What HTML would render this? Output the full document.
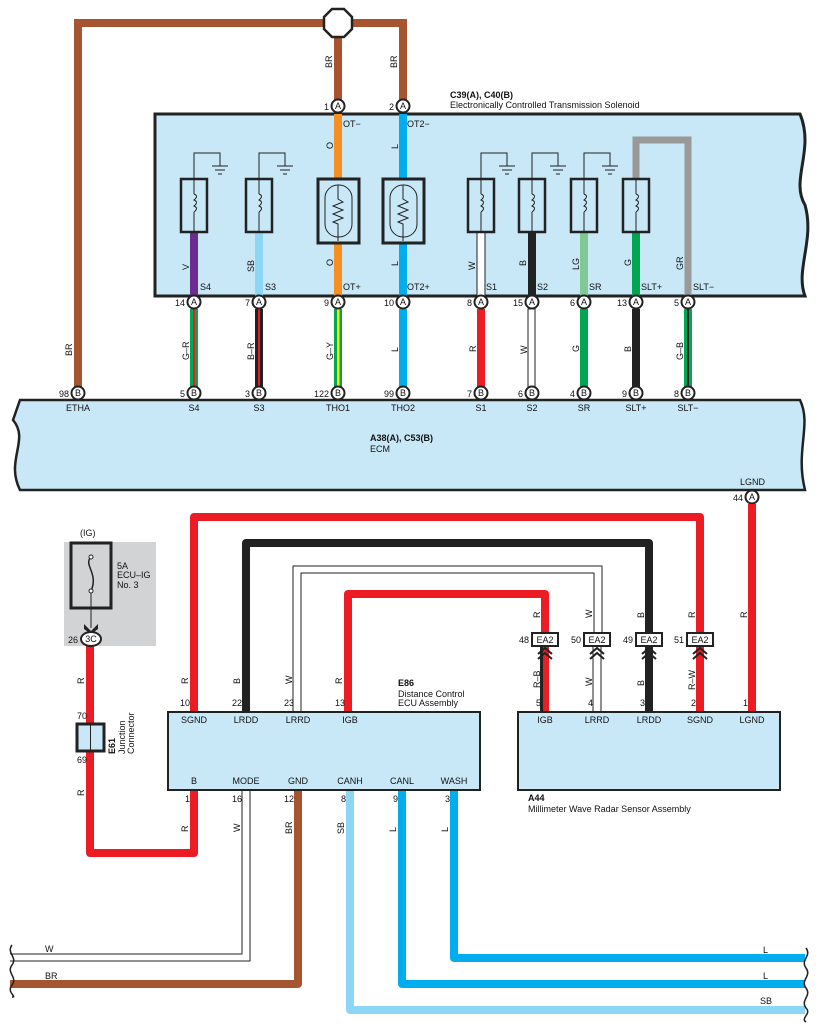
<!DOCTYPE html>
<html><head><meta charset="utf-8"><style>
html,body{margin:0;padding:0;background:#fff}
svg{display:block}
text{font-family:"Liberation Sans",sans-serif;font-size:9px;fill:#111}
.b{font-weight:bold}
</style></head><body>
<svg width="818" height="1032" viewBox="0 0 818 1032" xmlns="http://www.w3.org/2000/svg">
<defs>
<g id="coil"><rect x="-13" y="0" width="26" height="53" fill="none" stroke="#222" stroke-width="2.5"/><line x1="0" y1="0" x2="0" y2="15" stroke="#222"/><path d="M0 15 q5 2 0 6 q5 2 0 6 q5 2 0 6" fill="none" stroke="#222"/><line x1="0" y1="33" x2="0" y2="53" stroke="#222"/></g>
<g id="therm"><rect x="-20" y="0" width="41" height="64" fill="none" stroke="#222" stroke-width="3"/><rect x="-13" y="6" width="27" height="52" rx="13" fill="none" stroke="#222"/><path d="M0 6 v14 l5 3 -10 4 10 4 -10 4 10 4 -10 4 5 2 v17" fill="none" stroke="#222"/></g>
<g id="gnd"><line x1="-8" y1="0" x2="8" y2="0" stroke="#222"/><line x1="-5" y1="4" x2="5" y2="4" stroke="#222"/><line x1="-2" y1="8" x2="2" y2="8" stroke="#222"/></g>
</defs>

<!-- top brown loop -->
<path d="M78 393 V23 H403 V106" fill="none" stroke="#a65530" stroke-width="8"/>
<line x1="338" y1="23" x2="338" y2="106" stroke="#a65530" stroke-width="8"/>
<polygon points="332,9 344,9 352,17 352,29 344,37 332,37 324,29 324,17" fill="#fff" stroke="#222" stroke-width="2.5"/>
<text transform="translate(332,68) rotate(-90)">BR</text>
<text transform="translate(397,68) rotate(-90)">BR</text>
<text transform="translate(72,356) rotate(-90)">BR</text>

<!-- solenoid box -->
<path d="M155 114 H800 C815 150 790 180 805 205 C815 240 795 270 805 296 H155 Z" fill="#c8e8f8" stroke="#222" stroke-width="3"/>
<text x="450" y="98" class="b">C39(A), C40(B)</text>
<text x="450" y="108">Electronically Controlled Transmission Solenoid</text>

<!-- ground wires -->
<g stroke="#222" fill="none">
<path d="M194 179 V153 H220 V166"/><path d="M259 179 V153 H285 V166"/>
<path d="M481 179 V153 H507 V166"/><path d="M532 179 V153 H558 V166"/><path d="M584 179 V153 H610 V166"/>
</g>
<use href="#gnd" x="220" y="166"/><use href="#gnd" x="285" y="166"/><use href="#gnd" x="507" y="166"/><use href="#gnd" x="558" y="166"/><use href="#gnd" x="610" y="166"/>
<!-- GR -->
<path d="M636 179 V140 H688 V296" fill="none" stroke="#999" stroke-width="7"/>

<!-- wires inside solenoid -->
<line x1="194" y1="232" x2="194" y2="296" stroke="#6b2d8f" stroke-width="8"/>
<line x1="259" y1="232" x2="259" y2="296" stroke="#8ed6f6" stroke-width="8"/>
<line x1="338" y1="114" x2="338" y2="296" stroke="#f59020" stroke-width="8"/>
<line x1="403" y1="114" x2="403" y2="296" stroke="#00aeef" stroke-width="8"/>
<rect x="477" y="232" width="8" height="64" fill="#fff" stroke="#222"/>
<line x1="532" y1="232" x2="532" y2="296" stroke="#222" stroke-width="8"/>
<line x1="584" y1="232" x2="584" y2="296" stroke="#80c995" stroke-width="8"/>
<line x1="636" y1="232" x2="636" y2="296" stroke="#00a651" stroke-width="8"/>
<rect x="317" y="180" width="42" height="62" fill="#c8e8f8"/><rect x="382" y="180" width="42" height="62" fill="#c8e8f8"/>
<use href="#coil" x="194" y="179"/><use href="#coil" x="259" y="179"/>
<use href="#therm" x="338" y="179"/><use href="#therm" x="403" y="179"/>
<use href="#coil" x="481" y="179"/><use href="#coil" x="532" y="179"/><use href="#coil" x="584" y="179"/><use href="#coil" x="636" y="179"/>
<g>
<text transform="translate(189,270) rotate(-90)">V</text><text transform="translate(254,272) rotate(-90)">SB</text>
<text transform="translate(333,149) rotate(-90)">O</text><text transform="translate(333,266) rotate(-90)">O</text>
<text transform="translate(398,149) rotate(-90)">L</text><text transform="translate(398,266) rotate(-90)">L</text>
<text transform="translate(475,270) rotate(-90)">W</text><text transform="translate(526,266) rotate(-90)">B</text>
<text transform="translate(579,270) rotate(-90)">LG</text><text transform="translate(631,266) rotate(-90)">G</text>
<text transform="translate(683,270) rotate(-90)">GR</text>
</g>
<text x="200" y="290">S4</text><text x="265" y="290">S3</text><text x="343" y="290">OT+</text><text x="407" y="290">OT2+</text>
<text x="343" y="127">OT−</text><text x="407" y="127">OT2−</text>
<text x="486" y="290">S1</text><text x="537" y="290">S2</text><text x="589" y="290">SR</text><text x="641" y="290">SLT+</text><text x="693" y="290">SLT−</text>

<!-- wires between -->
<g>
<rect x="190" y="309" width="8" height="78" fill="#00a651"/><rect x="193" y="309" width="2" height="78" fill="#ed1c24"/>
<rect x="255" y="309" width="8" height="78" fill="#222"/><rect x="258" y="309" width="2" height="78" fill="#ed1c24"/>
<rect x="334" y="309" width="8" height="78" fill="#00a651"/><rect x="337" y="309" width="2.5" height="78" fill="#ffe600"/>
<rect x="399" y="309" width="8" height="78" fill="#00aeef"/>
<rect x="477" y="309" width="8" height="78" fill="#ed1c24"/>
<rect x="528" y="309" width="7" height="78" fill="#fff" stroke="#222"/>
<rect x="580" y="309" width="8" height="78" fill="#00a651"/>
<rect x="632" y="309" width="8" height="78" fill="#222"/>
<rect x="684" y="309" width="8" height="78" fill="#00a651"/><rect x="687" y="309" width="2" height="78" fill="#222"/>
</g>
<g>
<text transform="translate(189,360) rotate(-90)">G–R</text><text transform="translate(254,360) rotate(-90)">B–R</text>
<text transform="translate(333,360) rotate(-90)">G–Y</text><text transform="translate(398,352) rotate(-90)">L</text>
<text transform="translate(476,352) rotate(-90)">R</text><text transform="translate(527,354) rotate(-90)">W</text>
<text transform="translate(579,352) rotate(-90)">G</text><text transform="translate(631,352) rotate(-90)">B</text>
<text transform="translate(683,360) rotate(-90)">G–B</text>
</g>

<!-- ECM box -->
<path d="M20 400 H800 C812 425 795 450 805 490 H20 C5 460 30 440 13 420 Z" fill="#c8e8f8" stroke="#222" stroke-width="2.5"/>
<text x="370" y="441" class="b">A38(A), C53(B)</text><text x="370" y="452">ECM</text>
<g text-anchor="middle">
<text x="78" y="411">ETHA</text><text x="194" y="411">S4</text><text x="259" y="411">S3</text><text x="338" y="411">THO1</text><text x="403" y="411">THO2</text>
<text x="481" y="411">S1</text><text x="532" y="411">S2</text><text x="584" y="411">SR</text><text x="636" y="411">SLT+</text><text x="688" y="411">SLT−</text>
</g>

<!-- connectors -->
<g font-size="9">
<g fill="#fff" stroke="#222" stroke-width="2">
<circle cx="338" cy="106" r="6.5"/><circle cx="403" cy="106" r="6.5"/>
<circle cx="194" cy="302" r="6.5"/><circle cx="259" cy="302" r="6.5"/><circle cx="338" cy="302" r="6.5"/><circle cx="403" cy="302" r="6.5"/><circle cx="481" cy="302" r="6.5"/><circle cx="532" cy="302" r="6.5"/><circle cx="584" cy="302" r="6.5"/><circle cx="636" cy="302" r="6.5"/><circle cx="688" cy="302" r="6.5"/>
<circle cx="78" cy="393" r="6.5"/><circle cx="194" cy="393" r="6.5"/><circle cx="259" cy="393" r="6.5"/><circle cx="338" cy="393" r="6.5"/><circle cx="403" cy="393" r="6.5"/><circle cx="481" cy="393" r="6.5"/><circle cx="532" cy="393" r="6.5"/><circle cx="584" cy="393" r="6.5"/><circle cx="636" cy="393" r="6.5"/><circle cx="688" cy="393" r="6.5"/>
<circle cx="752" cy="497" r="6.5"/>
</g>
<g text-anchor="middle" font-size="8">
<text x="338" y="109">A</text><text x="403" y="109">A</text>
<text x="194" y="305">A</text><text x="259" y="305">A</text><text x="338" y="305">A</text><text x="403" y="305">A</text><text x="481" y="305">A</text><text x="532" y="305">A</text><text x="584" y="305">A</text><text x="636" y="305">A</text><text x="688" y="305">A</text>
<text x="78" y="396">B</text><text x="194" y="396">B</text><text x="259" y="396">B</text><text x="338" y="396">B</text><text x="403" y="396">B</text><text x="481" y="396">B</text><text x="532" y="396">B</text><text x="584" y="396">B</text><text x="636" y="396">B</text><text x="688" y="396">B</text>
<text x="752" y="500">A</text>
</g>
<g text-anchor="end">
<text x="329" y="110">1</text><text x="394" y="110">2</text>
<text x="185" y="306">14</text><text x="250" y="306">7</text><text x="329" y="306">9</text><text x="394" y="306">10</text><text x="472" y="306">8</text><text x="523" y="306">15</text><text x="575" y="306">6</text><text x="627" y="306">13</text><text x="679" y="306">5</text>
<text x="69" y="397">98</text><text x="185" y="397">5</text><text x="250" y="397">3</text><text x="329" y="397">122</text><text x="394" y="397">99</text><text x="472" y="397">7</text><text x="523" y="397">6</text><text x="575" y="397">4</text><text x="627" y="397">9</text><text x="679" y="397">8</text>
<text x="743" y="501">44</text>
</g>
</g>
<text x="740" y="485">LGND</text>

<!-- lower wires -->
<g fill="none" stroke-linejoin="round">
<path d="M752 504 V712" stroke="#ed1c24" stroke-width="8"/>
<path d="M194 712 V517 H700 V632" stroke="#ed1c24" stroke-width="8"/>
<path d="M246 712 V543 H649 V632" stroke="#222" stroke-width="8"/>
<path d="M293 712 V566 H602 V632" stroke="#222" stroke-width="1"/>
<path d="M301 712 V573 H594 V632" stroke="#222" stroke-width="1"/>
<path d="M348 712 V594 H545 V632" stroke="#ed1c24" stroke-width="8"/>
<path d="M90 646 V853 H194 V790" stroke="#ed1c24" stroke-width="8"/>
<path d="M242 790 V954 H10" stroke="#222" stroke-width="1"/>
<path d="M250 790 V961 H10" stroke="#222" stroke-width="1"/>
<path d="M298 790 V984 H10" stroke="#a65530" stroke-width="8"/>
<path d="M350 790 V1010 H805" stroke="#8ed6f6" stroke-width="8"/>
<path d="M402 790 V984 H805" stroke="#00aeef" stroke-width="8"/>
<path d="M454 790 V958 H805" stroke="#00aeef" stroke-width="8"/>
</g>
<!-- A44 side lower wires -->
<rect x="541" y="646" width="8" height="66" fill="#ed1c24"/><rect x="540" y="646" width="3" height="66" fill="#222"/>
<rect x="593" y="646" width="8" height="66" fill="#fff" stroke="#222"/>
<rect x="645" y="646" width="8" height="66" fill="#222"/>
<rect x="696" y="646" width="8" height="66" fill="#ed1c24"/>
<g fill="none" stroke="#222" stroke-width="2">
<path d="M538 654 l7 -6 7 6 M538 659 l7 -6 7 6"/><path d="M590 654 l7 -6 7 6 M590 659 l7 -6 7 6"/>
<path d="M642 654 l7 -6 7 6 M642 659 l7 -6 7 6"/><path d="M693 654 l7 -6 7 6 M693 659 l7 -6 7 6"/>
</g>
<g fill="#fff" stroke="#222" stroke-width="2">
<rect x="532" y="633" width="26" height="13"/><rect x="584" y="633" width="26" height="13"/><rect x="636" y="633" width="26" height="13"/><rect x="687" y="633" width="26" height="13"/>
</g>
<g text-anchor="middle"><text x="545" y="643">EA2</text><text x="597" y="643">EA2</text><text x="649" y="643">EA2</text><text x="700" y="643">EA2</text></g>
<g text-anchor="end"><text x="529" y="643">48</text><text x="581" y="643">50</text><text x="633" y="643">49</text><text x="684" y="643">51</text></g>
<g>
<text transform="translate(540,618) rotate(-90)">R</text><text transform="translate(592,618) rotate(-90)">W</text><text transform="translate(644,618) rotate(-90)">B</text><text transform="translate(695,618) rotate(-90)">R</text><text transform="translate(747,618) rotate(-90)">R</text>
<text transform="translate(540,688) rotate(-90)">R–B</text><text transform="translate(592,686) rotate(-90)">W</text><text transform="translate(644,686) rotate(-90)">B</text><text transform="translate(695,690) rotate(-90)">R–W</text>
<text transform="translate(188,684) rotate(-90)">R</text><text transform="translate(240,684) rotate(-90)">B</text><text transform="translate(292,684) rotate(-90)">W</text><text transform="translate(342,684) rotate(-90)">R</text>
<text transform="translate(84,684) rotate(-90)">R</text><text transform="translate(84,796) rotate(-90)">R</text>
<text transform="translate(188,832) rotate(-90)">R</text><text transform="translate(240,832) rotate(-90)">W</text><text transform="translate(292,834) rotate(-90)">BR</text><text transform="translate(344,834) rotate(-90)">SB</text><text transform="translate(396,832) rotate(-90)">L</text><text transform="translate(448,832) rotate(-90)">L</text>
</g>

<!-- E86 -->
<rect x="168" y="712" width="312" height="78" fill="#c8e8f8" stroke="#222" stroke-width="2"/>
<text x="398" y="686" class="b">E86</text><text x="398" y="697">Distance Control</text><text x="398" y="706">ECU Assembly</text>
<g text-anchor="middle"><text x="194" y="723">SGND</text><text x="246" y="723">LRDD</text><text x="298" y="723">LRRD</text><text x="350" y="723">IGB</text>
<text x="194" y="784">B</text><text x="246" y="784">MODE</text><text x="298" y="784">GND</text><text x="350" y="784">CANH</text><text x="402" y="784">CANL</text><text x="454" y="784">WASH</text></g>
<g text-anchor="end"><text x="190" y="706">10</text><text x="242" y="706">22</text><text x="294" y="706">23</text><text x="345" y="706">13</text>
<text x="190" y="802">1</text><text x="242" y="802">16</text><text x="294" y="802">12</text><text x="346" y="802">8</text><text x="398" y="802">9</text><text x="450" y="802">3</text>
<text x="541" y="706">5</text><text x="593" y="706">4</text><text x="645" y="706">3</text><text x="696" y="706">2</text><text x="748" y="706">1</text></g>

<!-- A44 -->
<rect x="518" y="712" width="262" height="78" fill="#c8e8f8" stroke="#222" stroke-width="2"/>
<g text-anchor="middle"><text x="545" y="723">IGB</text><text x="597" y="723">LRRD</text><text x="649" y="723">LRDD</text><text x="700" y="723">SGND</text><text x="752" y="723">LGND</text></g>
<text x="528" y="801" class="b">A44</text><text x="528" y="812">Millimeter Wave Radar Sensor Assembly</text>

<!-- fuse -->
<rect x="64" y="542" width="92" height="104" fill="#d2d3d5"/>
<text x="80" y="536">(IG)</text>
<rect x="71" y="543" width="40" height="65" fill="none" stroke="#222" stroke-width="3"/>
<path d="M91 557 c-8 8 8 16 0 34" fill="none" stroke="#222" stroke-width="1.5"/>
<circle cx="91" cy="557" r="2" fill="#fff" stroke="#222"/><circle cx="91" cy="591" r="2" fill="#fff" stroke="#222"/>
<line x1="91" y1="593" x2="91" y2="628" stroke="#222"/>
<path d="M84 624 l7 7 7 -7 v5 l-7 5 -7 -5 Z" fill="#222"/>
<text x="117" y="569">5A</text><text x="117" y="578">ECU–IG</text><text x="117" y="588">No. 3</text>
<ellipse cx="91" cy="639" rx="10" ry="7" fill="#fff" stroke="#222" stroke-width="2"/>
<text x="91" y="642" text-anchor="middle" font-size="8">3C</text>
<text x="68" y="643">26</text>
<!-- E61 -->
<rect x="77" y="724" width="27" height="27" fill="#c8e8f8" stroke="#222" stroke-width="3"/>
<line x1="90.5" y1="724" x2="90.5" y2="751" stroke="#222"/>
<text x="77" y="719">70</text><text x="77" y="763">69</text>
<text transform="translate(115,754) rotate(-90)" class="b">E61</text>
<text transform="translate(125,754) rotate(-90)">Junction</text>
<text transform="translate(134,754) rotate(-90)">Connector</text>

<!-- bottom labels & breaks -->
<text x="45" y="952">W</text><text x="45" y="979">BR</text>
<text x="763" y="953">L</text><text x="763" y="979">L</text><text x="760" y="1004">SB</text>
<g fill="none" stroke="#222" stroke-width="1.5">
<path d="M12 945 c-6 8 6 12 0 20 c-6 8 6 12 0 20 c-6 8 6 12 0 12"/>
<path d="M806 948 c6 8 -6 12 0 20 c6 8 -6 12 0 20 c6 8 -6 12 0 20 c6 6 -6 10 0 14"/>
</g>
</svg>
</body></html>
